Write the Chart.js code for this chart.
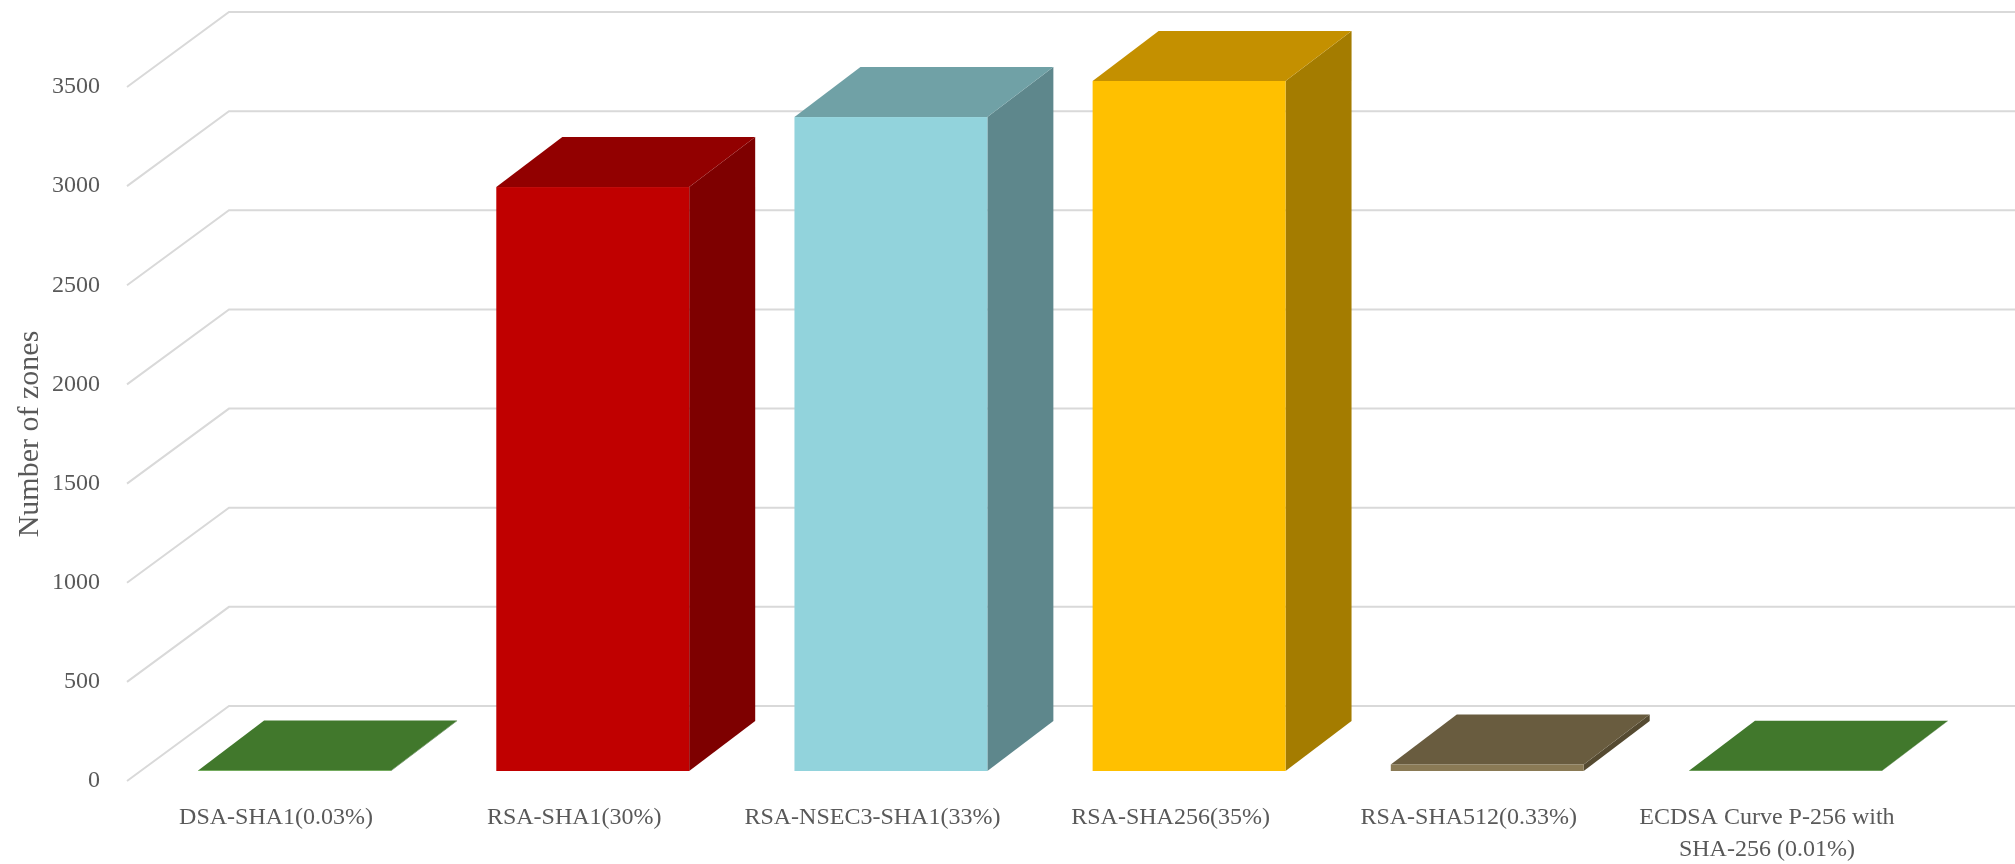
<!DOCTYPE html>
<html>
<head>
<meta charset="utf-8">
<title>Zones by DNSSEC algorithm</title>
<script src="https://cdn.jsdelivr.net/npm/chart.js@4.4.1/dist/chart.umd.min.js"></script>
<style>
  html, body { margin: 0; padding: 0; background: #fff; }
  #wrap { width: 2015px; height: 864px; }
</style>
</head>
<body>
<div id="wrap"><canvas id="zonesChart" width="2015" height="864"></canvas></div>
<script>
const categories = [
  'DSA-SHA1(0.03%)',
  'RSA-SHA1(30%)',
  'RSA-NSEC3-SHA1(33%)',
  'RSA-SHA256(35%)',
  'RSA-SHA512(0.33%)',
  ['ECDSA Curve P-256 with', 'SHA-256 (0.01%)']
];
const zoneCounts = [3, 2945, 3298, 3480, 33, 1];
const yTicks = [0, 500, 1000, 1500, 2000, 2500, 3000, 3500];

// face colours per bar: front, top, right side
const frontColors = ['#56a03a', '#c00000', '#92d3dc', '#ffc000', '#8a7a55', '#56a03a'];
const topColors   = ['#41782c', '#920000', '#70a1a6', '#c49000', '#695c3f', '#41782c'];
const sideColors  = ['#35622a', '#7e0000', '#5e878c', '#a47c00', '#554a31', '#35622a'];

// 3d projection offsets
const WALL = { dx: 102, dy: -75 };
const BAR_SHIFT = { dx: 18.5, dy: -10 };
const BAR_DEPTH = { dx: 66, dy: -50 };

function fillPoly(ctx, color, pts) {
  ctx.fillStyle = color;
  ctx.beginPath();
  ctx.moveTo(pts[0][0], pts[0][1]);
  for (let i = 1; i < pts.length; i++) ctx.lineTo(pts[i][0], pts[i][1]);
  ctx.closePath();
  ctx.fill();
}

const cubes = {
  id: 'cubes',
  beforeDatasetsDraw(chart) {
    const { ctx, chartArea, scales: { y } } = chart;
    ctx.save();
    ctx.strokeStyle = '#d9d9d9';
    ctx.lineWidth = 2;
    yTicks.forEach(v => {
      const py = y.getPixelForValue(v);
      ctx.beginPath();
      ctx.moveTo(chartArea.left, py);
      ctx.lineTo(chartArea.left + WALL.dx, py + WALL.dy);
      ctx.lineTo(chart.width, py + WALL.dy);
      ctx.stroke();
    });
    ctx.restore();
  },
  afterDatasetsDraw(chart) {
    const ctx = chart.ctx;
    const { dx, dy } = BAR_DEPTH;
    chart.getDatasetMeta(0).data.forEach((bar, i) => {
      const { x, y, base, width } = bar.getProps(['x', 'y', 'base', 'width'], true);
      const l = x - width / 2 + BAR_SHIFT.dx;
      const r = x + width / 2 + BAR_SHIFT.dx;
      const t = y + BAR_SHIFT.dy;
      const b = base + BAR_SHIFT.dy;
      fillPoly(ctx, sideColors[i], [[r, t], [r + dx, t + dy], [r + dx, b + dy], [r, b]]);
      fillPoly(ctx, topColors[i], [[l, t], [l + dx, t + dy], [r + dx, t + dy], [r, t]]);
      ctx.fillStyle = frontColors[i];
      ctx.fillRect(l, t, r - l, b - t);
    });
  }
};

const textColor = '#595959';
Chart.defaults.font.family = "'Liberation Serif', 'DejaVu Serif', serif";
Chart.defaults.color = textColor;

new Chart(document.getElementById('zonesChart'), {
  type: 'bar',
  data: {
    labels: categories,
    datasets: [{
      label: 'Number of zones',
      data: zoneCounts,
      backgroundColor: 'rgba(0,0,0,0)',
      categoryPercentage: 1,
      barPercentage: 0.647
    }]
  },
  options: {
    responsive: false,
    animation: false,
    layout: { padding: { top: 87, right: 99, left: 0, bottom: 0 } },
    plugins: {
      legend: { display: false },
      tooltip: { enabled: false }
    },
    scales: {
      x: {
        grid: { display: false, drawTicks: false },
        border: { display: false },
        ticks: {
          padding: 21,
          maxRotation: 0,
          autoSkip: false,
          font: { size: 24, lineHeight: 1.333 }
        },
        afterFit(scale) { scale.height = 83; }
      },
      y: {
        min: 0,
        max: 3500,
        grid: { display: false, drawTicks: false },
        border: { display: false },
        ticks: {
          stepSize: 500,
          padding: 27,
          font: { size: 24 },
          callback: v => String(v)
        },
        title: {
          display: true,
          text: 'Number of zones',
          color: textColor,
          padding: { top: 12, bottom: 0 },
          font: { size: 30 }
        },
        afterFit(scale) { scale.width = 127; }
      }
    }
  },
  plugins: [cubes]
});
</script>
</body>
</html>
